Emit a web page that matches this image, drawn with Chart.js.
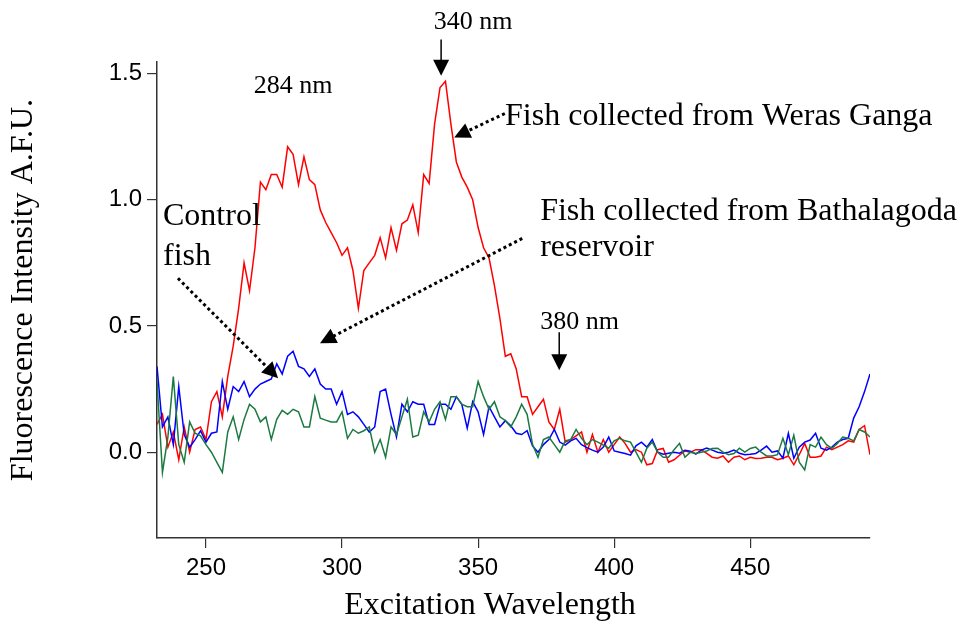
<!DOCTYPE html>
<html>
<head>
<meta charset="utf-8">
<script src="https://cdn.jsdelivr.net/npm/chart.js@4.4.1/dist/chart.umd.min.js"></script>
<style>
  html, body { margin: 0; padding: 0; background: #fff; }
  #wrap { width: 961px; height: 622px; }
</style>
</head>
<body>
<div id="wrap"><canvas id="chart-1" width="961" height="622"></canvas></div>
<script>
// excitation wavelength (nm), 2 nm steps
var wavelength = [
  232,234,236,238,240,242,244,246,248,250,
  252,254,256,258,260,262,264,266,268,270,
  272,274,276,278,280,282,284,286,288,290,
  292,294,296,298,300,302,304,306,308,310,
  312,314,316,318,320,322,324,326,328,330,
  332,334,336,338,340,342,344,346,348,350,
  352,354,356,358,360,362,364,366,368,370,
  372,374,376,378,380,382,384,386,388,390,
  392,394,396,398,400,402,404,406,408,410,
  412,414,416,418,420,422,424,426,428,430,
  432,434,436,438,440,442,444,446,448,450,
  452,454,456,458,460,462,464,466,468,470,
  472,474,476,478,480,482,484,486,488,490,
  492,494
];

// Fish collected from Weras Ganga (red)
var weras = [
  0.11,0.15,0.02,0.08,-0.03,0.10,0.00,0.09,0.10,0.05,
  0.20,0.24,0.14,0.30,0.42,0.57,0.75,0.64,0.81,1.07,
  1.04,1.10,1.10,1.05,1.21,1.18,1.06,1.17,1.08,1.06,
  0.96,0.91,0.87,0.83,0.78,0.81,0.72,0.57,0.72,0.75,
  0.78,0.85,0.77,0.89,0.80,0.905,0.92,0.98,0.87,1.10,
  1.065,1.30,1.445,1.47,1.30,1.15,1.09,1.05,1.00,0.89,
  0.81,0.77,0.66,0.53,0.38,0.39,0.33,0.22,0.22,0.15,
  0.18,0.21,0.12,0.09,0.17,0.04,0.05,0.065,0.08,0.00,
  0.07,0.00,0.05,0.00,0.03,0.06,0.035,0.00,0.01,0.00,
  -0.05,-0.045,0.01,0.015,-0.04,-0.03,-0.012,0.005,0.00,0.01,
  0.01,-0.005,-0.02,-0.024,-0.015,-0.04,-0.02,-0.015,-0.03,-0.02,
  -0.025,-0.024,-0.02,-0.02,-0.03,-0.024,-0.015,-0.05,-0.01,0.035,
  -0.02,-0.02,-0.015,0.02,0.01,0.02,0.03,0.045,0.04,0.09,
  0.105,-0.01
];

// Fish collected from Bathalagoda reservoir (blue)
var bathalagoda = [
  0.34,0.10,0.14,0.03,0.26,0.07,0.02,0.05,0.085,0.04,
  0.075,0.08,0.28,0.17,0.26,0.24,0.28,0.22,0.25,0.27,
  0.28,0.29,0.35,0.31,0.38,0.40,0.34,0.33,0.30,0.33,
  0.27,0.25,0.25,0.19,0.24,0.15,0.16,0.14,0.11,0.08,
  0.10,0.24,0.25,0.15,0.06,0.19,0.16,0.20,0.19,0.19,
  0.11,0.11,0.19,0.19,0.17,0.22,0.19,0.095,0.20,0.16,
  0.07,0.18,0.14,0.10,0.125,0.105,0.075,0.07,0.085,0.025,
  0.00,0.03,0.05,0.09,0.04,0.028,0.045,0.055,0.03,0.018,
  0.008,0.00,0.02,0.06,0.005,0.00,-0.005,-0.012,0.025,0.04,
  0.02,0.05,0.00,-0.008,-0.004,0.00,-0.004,0.008,0.004,-0.008,
  0.008,0.016,0.008,0.00,-0.004,0.00,0.008,-0.004,-0.01,-0.008,
  -0.005,0.008,0.024,0.00,0.005,-0.024,0.075,-0.024,0.02,0.04,
  0.048,0.075,0.016,0.008,0.02,0.04,0.05,0.055,0.135,0.18,
  0.24,0.31
];

// Control fish (green)
var control = [
  0.28,-0.08,0.06,0.30,0.03,-0.04,0.12,0.075,0.065,0.03,
  0.00,-0.04,-0.08,0.08,0.14,0.05,0.13,0.19,0.17,0.12,
  0.14,0.05,0.13,0.166,0.15,0.17,0.16,0.10,0.10,0.22,
  0.135,0.127,0.12,0.12,0.16,0.055,0.09,0.075,0.085,0.10,
  0.00,0.05,-0.02,0.10,0.07,0.14,0.21,0.06,0.067,0.16,
  0.12,0.17,0.20,0.13,0.22,0.22,0.19,0.18,0.18,0.28,
  0.22,0.17,0.20,0.14,0.125,0.10,0.14,0.19,0.15,0.03,
  -0.02,0.05,0.06,0.03,0.00,0.045,0.05,0.09,0.055,0.03,
  0.05,0.04,0.028,0.016,0.045,0.055,0.045,0.04,0.00,-0.04,
  0.016,0.04,0.00,-0.02,-0.02,0.01,0.035,-0.02,0.00,-0.005,
  0.00,0.005,0.015,0.016,0.00,-0.01,-0.005,0.016,0.00,0.015,
  0.02,0.00,-0.015,-0.015,-0.01,0.055,-0.01,0.067,-0.04,-0.07,
  0.03,0.02,0.06,0.03,0.015,0.035,0.06,0.055,0.045,0.09,
  0.08,0.06
];

var x_ticks = [250, 300, 350, 400, 450];
var y_ticks = [0.0, 0.5, 1.0, 1.5];

function points(values) {
  return wavelength.map(function (w, i) { return { x: w, y: values[i] }; });
}

var serif = '"Liberation Serif", "Times New Roman", serif';

// annotations are placed in data units (nm, A.F.U.)
var notes = {
  id: "notes",
  afterDraw: function (chart) {
    const ctx = chart.ctx;
    const sx = chart.scales.x, sy = chart.scales.y;
    const X = v => sx.getPixelForValue(v), Y = v => sy.getPixelForValue(v);

    function head(x1, y1, x2, y2) {
      const a = Math.atan2(y2 - y1, x2 - x1), len = 16, w = 8;
      ctx.beginPath();
      ctx.moveTo(x2, y2);
      ctx.lineTo(x2 - len * Math.cos(a) + w * Math.sin(a), y2 - len * Math.sin(a) - w * Math.cos(a));
      ctx.lineTo(x2 - len * Math.cos(a) - w * Math.sin(a), y2 - len * Math.sin(a) + w * Math.cos(a));
      ctx.closePath();
      ctx.fill();
    }
    function arrow(a, b, c, d, dotted) {
      const x1 = X(a), y1 = Y(b), x2 = X(c), y2 = Y(d);
      const ang = Math.atan2(y2 - y1, x2 - x1);
      ctx.save();
      ctx.lineWidth = dotted ? 3 : 1.5;
      ctx.setLineDash(dotted ? [3, 3] : []);
      ctx.beginPath();
      ctx.moveTo(x1, y1);
      ctx.lineTo(x2 - 14 * Math.cos(ang), y2 - 14 * Math.sin(ang));
      ctx.stroke();
      ctx.restore();
      head(x1, y1, x2, y2);
    }

    ctx.save();
    ctx.fillStyle = "#000";
    ctx.strokeStyle = "#000";
    ctx.textBaseline = "middle";

    ctx.font = "26px " + serif;
    ctx.textAlign = "center";
    ctx.fillText("340 nm", X(348.2), Y(1.702));
    ctx.fillText("284 nm", X(282), Y(1.449));
    ctx.textAlign = "left";
    ctx.fillText("380 nm", X(372.8), Y(0.515));

    ctx.font = "32px " + serif;
    ctx.fillText("Fish collected from Weras Ganga", X(359.9), Y(1.33));
    ctx.fillText("Fish collected from Bathalagoda", X(372.8), Y(0.954));
    ctx.fillText("reservoir", X(372.8), Y(0.812));
    ctx.fillText("Control", X(234.2), Y(0.934));
    ctx.fillText("fish", X(234.2), Y(0.776));

    arrow(336.4, 1.635, 336.4, 1.492, false);
    arrow(379.8, 0.475, 379.8, 0.325, false);
    arrow(359.8, 1.342, 341.2, 1.247, true);
    arrow(366.2, 0.847, 291.9, 0.432, true);
    arrow(239.7, 0.689, 276.5, 0.293, true);

    // axis titles
    ctx.textAlign = "center";
    ctx.fillText("Excitation Wavelength", 490, 606);
    ctx.translate(24, 290);
    ctx.rotate(-Math.PI / 2);
    ctx.fillText("Fluorescence Intensity A.F.U.", 0, 0);
    ctx.restore();
  }
};

function line(label, values, colour) {
  return {
    label: label,
    data: points(values),
    borderColor: colour,
    backgroundColor: colour,
    borderWidth: 1.5,
    pointRadius: 0,
    tension: 0,
    fill: false
  };
}

const ctx = document.getElementById("chart-1").getContext("2d");
const myChart = new Chart(ctx, {
  type: "line",
  data: {
    datasets: [
      line("Control fish", control, "#1a7a40"),
      line("Fish collected from Bathalagoda reservoir", bathalagoda, "#0000ff"),
      line("Fish collected from Weras Ganga", weras, "#ff0000")
    ]
  },
  options: {
    responsive: false,
    animation: false,
    events: [],
    layout: { padding: { top: 62, right: 91, left: 0, bottom: 0 } },
    plugins: {
      legend: { display: false },
      tooltip: { enabled: false }
    },
    scales: {
      x: {
        type: "linear",
        min: 232,
        max: 494,
        afterBuildTicks: function (s) { s.ticks = x_ticks.map(v => ({ value: v })); },
        afterFit: function (s) { s.height = 84; },
        ticks: {
          color: "#000",
          padding: 6,
          maxRotation: 0,
          font: { family: '"Liberation Sans", Arial, sans-serif', size: 24 }
        },
        grid: { drawOnChartArea: false, drawTicks: true, tickLength: 10, color: "#333", lineWidth: 1.2 },
        border: { display: true, color: "#333", width: 1.5 }
      },
      y: {
        min: -0.34,
        max: 1.546,
        afterBuildTicks: function (s) { s.ticks = y_ticks.map(v => ({ value: v })); },
        afterFit: function (s) { s.width = 157; },
        ticks: {
          color: "#000",
          padding: 5,
          callback: v => v.toFixed(1),
          font: { family: '"Liberation Sans", Arial, sans-serif', size: 24 }
        },
        grid: { drawOnChartArea: false, drawTicks: true, tickLength: 10, color: "#333", lineWidth: 1.2 },
        border: { display: true, color: "#333", width: 1.5 }
      }
    }
  },
  plugins: [notes]
});
</script>
</body>
</html>
